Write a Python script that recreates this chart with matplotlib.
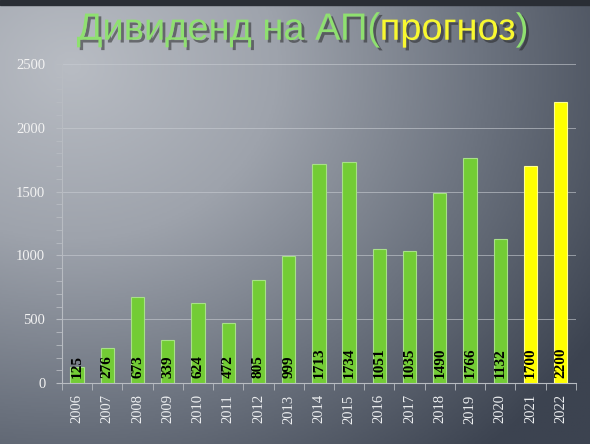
import numpy as np
import matplotlib.pyplot as plt
import matplotlib.patheffects as pe
from matplotlib.colors import LinearSegmentedColormap

# data
years = ['2006', '2007', '2008', '2009', '2010', '2011', '2012', '2013', '2014',
         '2015', '2016', '2017', '2018', '2019', '2020', '2021', '2022']
dividends = [125, 276, 673, 339, 624, 472, 805, 999, 1713,
             1734, 1051, 1035, 1490, 1766, 1132, 1700, 2200]
forecast = [False] * 15 + [True, True]

fig = plt.figure(figsize=(5.9, 4.44), dpi=100)

# background gradient, light in the upper left, dark blue-grey lower right
bg = fig.add_axes([0, 0, 1, 1], zorder=0)
yy, xx = np.mgrid[0:1:300j, 0:1:400j]
d = np.sqrt((xx - 0.12) ** 2 + ((yy - 0.15) * 0.9) ** 2)
cmap = LinearSegmentedColormap.from_list('bg', ['#b8bcc3', '#9ea3ac', '#6c737f', '#3c4350'])
bg.imshow(d, cmap=cmap, aspect='auto', extent=[0, 1, 1, 0], vmin=0, vmax=1.05)
bg.axhspan(0.0, 0.012, color='#2a2e35')
bg.set_xlim(0, 1)
bg.set_ylim(1, 0)
bg.axis('off')

ax = fig.add_axes([0.105, 0.137, 0.871, 0.719], zorder=1)
ax.patch.set_alpha(0)

x = np.arange(len(years))
colors = ['#ffff00' if f else '#73cc35' for f in forecast]
edges = ['#ffff90' if f else '#a8e088' for f in forecast]
ax.bar(x, dividends, width=0.44, color=colors, edgecolor=edges, linewidth=0.8, zorder=3)

for xi, v in zip(x, dividends):
    ax.text(xi, 40, str(v), rotation=90, ha='center', va='bottom',
            family='Liberation Serif', fontweight='bold', fontsize=11,
            color='black', zorder=4)

ax.set_xlim(-0.5, len(years) - 0.5)
ax.set_ylim(0, 2500)
ax.set_yticks([0, 500, 1000, 1500, 2000, 2500])
ax.set_yticks(np.arange(0, 2501, 100), minor=True)
ax.grid(axis='y', color='#c8ccd2', linewidth=0.7, alpha=0.6, zorder=1)

# year labels between boundary ticks
ax.set_xticks(x)
ax.set_xticklabels(years, rotation=90, family='Liberation Serif', fontsize=10.5, color='#eceef0')
ax.set_xticks(np.arange(-0.5, len(years)), minor=True)
ax.tick_params(axis='x', which='major', length=0, pad=8)
ax.tick_params(axis='x', which='minor', length=5, color='#b8bcc2', direction='out')
ax.tick_params(axis='y', which='both', length=4, color='#b8bcc2', labelcolor='#f2f2f2', pad=8)
for lbl in ax.get_yticklabels():
    lbl.set_family('Liberation Serif')
    lbl.set_fontsize(10.5)

for s in ['top', 'right']:
    ax.spines[s].set_visible(False)
for s in ['left', 'bottom']:
    ax.spines[s].set_color('#b8bcc2')
    ax.spines[s].set_linewidth(0.8)

# title, green with yellow "(прогноз)"
shadow = [pe.withSimplePatchShadow(offset=(2, -2), shadow_rgbFace='#202020', alpha=0.5)]
ty = 0.933
t1 = fig.text(0.13, ty, 'Дивиденд на АП(', family='Liberation Sans', fontsize=27.4,
              color='#8fe070', va='center', ha='left', path_effects=shadow)
fig.canvas.draw()
bb = t1.get_window_extent()
t2 = fig.text(bb.x1 / fig.bbox.width, ty, 'прогноз', family='Liberation Sans', fontsize=27.4,
              color='#f8f830', va='center', ha='left', path_effects=shadow)
fig.canvas.draw()
bb2 = t2.get_window_extent()
fig.text(bb2.x1 / fig.bbox.width, ty, ')', family='Liberation Sans', fontsize=27.4,
         color='#8fe070', va='center', ha='left', path_effects=shadow)

fig.savefig('out.png', dpi=100)
